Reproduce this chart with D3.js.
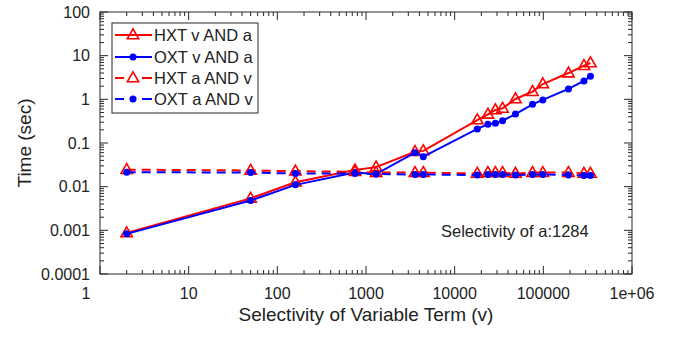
<!DOCTYPE html>
<html>
<head>
<meta charset="utf-8">
<script src="https://cdn.jsdelivr.net/npm/d3@7"></script>
<style>
  html, body { margin: 0; padding: 0; background: #fff; }
  svg { display: block; }
  text { font-family: "Liberation Sans", Arial, Helvetica, sans-serif; fill: #222; }
</style>
</head>
<body>
<svg id="chart" width="683" height="337"></svg>
<script>
// ---- data ----
const selectivity = [2, 50, 160, 750, 1300, 3570, 4430, 18000, 23700, 28800, 34700, 48500, 75500, 98600, 192000, 287000, 340000];
const hxtVandA = [0.00087, 0.0054, 0.0126, 0.024, 0.028, 0.063, 0.066, 0.336, 0.454, 0.57, 0.62, 1.02, 1.5, 2.24, 4.0, 5.9, 6.8];
const oxtVandA = [0.00083, 0.0048, 0.011, 0.021, 0.0195, 0.060, 0.0486, 0.21, 0.268, 0.283, 0.324, 0.46, 0.77, 0.97, 1.73, 2.63, 3.4];
const hxtAandV = [0.0245, 0.0235, 0.0225, 0.022, 0.021, 0.021, 0.021, 0.020, 0.021, 0.021, 0.021, 0.020, 0.021, 0.021, 0.021, 0.020, 0.020];
const oxtAandV = [0.0215, 0.021, 0.020, 0.020, 0.0195, 0.019, 0.019, 0.0185, 0.019, 0.019, 0.019, 0.0185, 0.019, 0.019, 0.0185, 0.018, 0.018];
const xTickValues = [1, 10, 100, 1000, 10000, 100000, 1000000];
const xTickLabels = ["1", "10", "100", "1000", "10000", "100000", "1e+06"];
const yTickValues = [0.0001, 0.001, 0.01, 0.1, 1, 10, 100];
const yTickLabels = ["0.0001", "0.001", "0.01", "0.1", "1", "10", "100"];
const seriesNames = ["HXT v AND a", "OXT v AND a", "HXT a AND v", "OXT a AND v"];
const annotation = "Selectivity of a:1284";

// ---- layout ----
const L = 100, R = 632, T = 12, B = 274;
const svg = d3.select("#chart");
const x = d3.scaleLog().domain([1, 1e6]).range([L, R]);
const y = d3.scaleLog().domain([1e-4, 100]).range([B, T]);

const series = [
  { name: seriesNames[0], vals: hxtVandA, color: "#ff0000", dash: null, marker: "tri" },
  { name: seriesNames[1], vals: oxtVandA, color: "#0000ff", dash: null, marker: "dot" },
  { name: seriesNames[2], vals: hxtAandV, color: "#ff0000", dash: "9,6", marker: "tri" },
  { name: seriesNames[3], vals: oxtAandV, color: "#0000ff", dash: "9,6", marker: "dot" }
];

function minorTicks(lo, hi) {
  const out = [];
  for (let e = lo; e < hi; e++) for (let k = 2; k <= 9; k++) out.push(k * Math.pow(10, e));
  return out;
}
const xMinor = minorTicks(0, 6);
const yMinor = minorTicks(-4, 2);
const axisColor = "#262626";

const g = svg.append("g");
function drawTicks(vals, len, scale, side) {
  vals.forEach(v => {
    const p = scale(v);
    if (side === "bottom") g.append("line").attr("x1", p).attr("x2", p).attr("y1", B).attr("y2", B - len);
    if (side === "top") g.append("line").attr("x1", p).attr("x2", p).attr("y1", T).attr("y2", T + len);
    if (side === "left") g.append("line").attr("y1", p).attr("y2", p).attr("x1", L).attr("x2", L + len);
    if (side === "right") g.append("line").attr("y1", p).attr("y2", p).attr("x1", R).attr("x2", R - len);
  });
}
drawTicks(xTickValues, 8, x, "bottom"); drawTicks(xTickValues, 8, x, "top");
drawTicks(xMinor, 4, x, "bottom"); drawTicks(xMinor, 4, x, "top");
drawTicks(yTickValues, 8, y, "left"); drawTicks(yTickValues, 8, y, "right");
drawTicks(yMinor, 4, y, "left"); drawTicks(yMinor, 4, y, "right");
g.selectAll("line").attr("stroke", axisColor).attr("stroke-width", 1);

svg.append("rect").attr("x", L).attr("y", T).attr("width", R - L).attr("height", B - T)
  .attr("fill", "none").attr("stroke", axisColor).attr("stroke-width", 1);

svg.selectAll(".xl").data(xTickValues).enter().append("text")
  .attr("x", (d, i) => x(d) + (i === 0 ? -14 : 0)).attr("y", 299)
  .attr("text-anchor", "middle").attr("font-size", 16)
  .text((d, i) => xTickLabels[i]);
svg.selectAll(".yl").data(yTickValues).enter().append("text")
  .attr("x", 90).attr("y", d => y(d)).attr("dy", "0.36em")
  .attr("text-anchor", "end").attr("font-size", 16)
  .text((d, i) => yTickLabels[i]);

svg.append("text").attr("x", 366).attr("y", 321).attr("text-anchor", "middle")
  .attr("font-size", 19).text("Selectivity of Variable Term (v)");
svg.append("text").attr("transform", "translate(31,143) rotate(-90)").attr("text-anchor", "middle")
  .attr("font-size", 19).text("Time (sec)");

svg.append("text").attr("x", 441).attr("y", 237).attr("font-size", 16.5).text(annotation);

const triSym = d3.symbol().type(d3.symbolTriangle).size(56);
function drawMarker(sel, s, cx, cy) {
  if (s.marker === "tri") {
    sel.append("path").attr("d", triSym()).attr("transform", `translate(${cx},${cy + 0.5})`)
      .attr("fill", "none").attr("stroke", s.color).attr("stroke-width", 1.6);
  } else {
    sel.append("circle").attr("cx", cx).attr("cy", cy).attr("r", 3.5).attr("fill", s.color);
  }
}

const line = d3.line().x(d => x(d[0])).y(d => y(d[1]));
series.forEach(s => {
  const pts = selectivity.map((v, i) => [v, s.vals[i]]);
  const sg = svg.append("g");
  sg.append("path").attr("d", line(pts)).attr("fill", "none").attr("stroke", s.color)
    .attr("stroke-width", 2).attr("stroke-dasharray", s.dash);
  pts.forEach(p => drawMarker(sg, s, x(p[0]), y(p[1])));
});

const lg = svg.append("g");
lg.append("rect").attr("x", 112).attr("y", 23).attr("width", 146).attr("height", 90)
  .attr("fill", "#fff").attr("stroke", axisColor).attr("stroke-width", 1);
const rowY = [35, 57, 78, 99];
series.forEach((s, i) => {
  const yy = rowY[i];
  if (s.dash) {
    lg.append("line").attr("x1", 115).attr("x2", 124).attr("y1", yy).attr("y2", yy)
      .attr("stroke", s.color).attr("stroke-width", 2);
    lg.append("line").attr("x1", 142).attr("x2", 152).attr("y1", yy).attr("y2", yy)
      .attr("stroke", s.color).attr("stroke-width", 2);
  } else {
    lg.append("line").attr("x1", 115).attr("x2", 152).attr("y1", yy).attr("y2", yy)
      .attr("stroke", s.color).attr("stroke-width", 2);
  }
  drawMarker(lg, s, 133, yy);
  lg.append("text").attr("x", 154).attr("y", yy).attr("dy", "0.36em")
    .attr("font-size", 16.5).text(s.name);
});
</script>
</body>
</html>
